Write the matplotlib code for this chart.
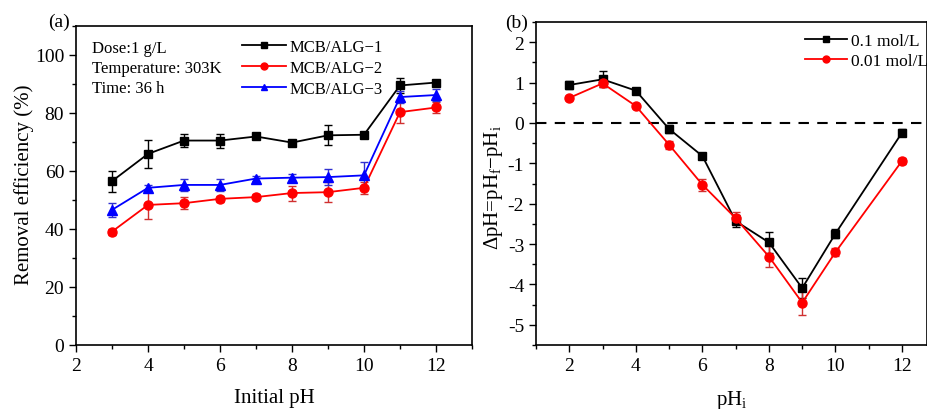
import matplotlib
matplotlib.use("Agg")
import matplotlib.pyplot as plt
from matplotlib.ticker import MultipleLocator
from matplotlib.lines import Line2D

plt.rcParams['font.family'] = ['Liberation Serif', 'DejaVu Serif']
plt.rcParams['mathtext.fontset'] = 'custom'
plt.rcParams['mathtext.rm'] = 'Liberation Serif'
plt.rcParams['mathtext.it'] = 'Liberation Serif:italic'
plt.rcParams['axes.unicode_minus'] = False

# ---- Panel (a) data ----
ph_a = [3, 4, 5, 6, 7, 8, 9, 10, 11, 12]
alg1 = [56.5, 65.9, 70.5, 70.5, 71.9, 69.8, 72.3, 72.5, 89.5, 90.5]
alg1_err = [3.6, 4.8, 2.2, 2.4, 1.0, 0.8, 3.4, 1.0, 2.6, 1.0]
alg2 = [39.1, 48.3, 48.9, 50.4, 51.0, 52.4, 52.7, 54.2, 80.3, 81.9]
alg2_err = [1.0, 4.8, 2.0, 1.0, 1.0, 2.6, 3.4, 2.0, 3.6, 2.0]
alg3 = [46.6, 54.2, 55.2, 55.2, 57.4, 57.7, 57.9, 58.5, 85.5, 86.2]
alg3_err = [2.3, 1.0, 2.2, 2.0, 1.0, 1.3, 2.8, 4.5, 2.0, 2.0]
labels_a = ['MCB/ALG\u22121', 'MCB/ALG\u22122', 'MCB/ALG\u22123']

# ---- Panel (b) data ----
ph_b = [2, 3, 4, 5, 6, 7, 8, 9, 10, 12]
c01 = [0.94, 1.08, 0.80, -0.15, -0.82, -2.43, -2.96, -4.09, -2.74, -0.24]
c01_err = [0.10, 0.20, 0.06, 0.10, 0.05, 0.15, 0.25, 0.25, 0.12, 0.08]
c001 = [0.62, 0.98, 0.42, -0.54, -1.53, -2.36, -3.31, -4.45, -3.20, -0.94]
c001_err = [0.05, 0.08, 0.05, 0.10, 0.15, 0.15, 0.25, 0.30, 0.10, 0.08]
labels_b = ['0.1 mol/L', '0.01 mol/L']

W, H = 927, 410
fig = plt.figure(figsize=(W / 100, H / 100), dpi=100)

def px_axes(x0, y0, x1, y1):
    return fig.add_axes([x0 / W, 1 - y1 / H, (x1 - x0) / W, (y1 - y0) / H])

ax1 = px_axes(76, 27, 472, 346)
ax2 = px_axes(536, 23, 927, 346)

tick_fs = 14
for ax in (ax1, ax2):
    for s in ax.spines.values():
        s.set_linewidth(1.2)
    ax.tick_params(which='both', direction='out', top=False, right=False,
                   labelsize=tick_fs, width=1.0)
    ax.tick_params(which='major', length=5)
    ax.tick_params(which='minor', length=3)

kw = dict(lw=1.3, capsize=3, elinewidth=1.0, capthick=1.0)
red = '#ff0000'
blue = '#0000ff'
ax1.errorbar(ph_a, alg1, yerr=alg1_err, color='black', marker='s', markersize=5.5, **kw)
ax1.errorbar(ph_a, alg2, yerr=alg2_err, color=red, ecolor='#d03030', marker='o', markersize=6.5, **kw)
ax1.errorbar(ph_a, alg3, yerr=alg3_err, color=blue, ecolor='#3030d0', marker='^', markersize=6.5, **kw)
ax1.set_xlim(2, 13)
ax1.set_ylim(0, 110)
ax1.xaxis.set_major_locator(MultipleLocator(2))
ax1.xaxis.set_minor_locator(MultipleLocator(1))
ax1.yaxis.set_major_locator(MultipleLocator(20))
ax1.yaxis.set_minor_locator(MultipleLocator(10))
ax1.set_xlabel('Initial pH', fontsize=15, labelpad=10)
ax1.set_ylabel('Removal efficiency (%)', fontsize=15)
ax1.yaxis.set_label_coords((34 - 76) / 396, (346 - 185) / 319)

h_a = [Line2D([], [], color='black', marker='s', markersize=4.5, lw=1.3),
       Line2D([], [], color=red, marker='o', markersize=5, lw=1.3),
       Line2D([], [], color=blue, marker='^', markersize=5, lw=1.3)]
ax1.legend(h_a, labels_a, loc='upper left', bbox_to_anchor=(0.42, 0.96), frameon=False,
           fontsize=12, handlelength=2.6, handletextpad=0.25,
           labelspacing=0.3, borderaxespad=0, borderpad=0)
ax1.text(0.04, 0.955, 'Dose:1 g/L\nTemperature: 303K\nTime: 36 h',
         transform=ax1.transAxes, fontsize=12, va='top', ha='left', linespacing=1.3)
fig.text(48 / W, 1 - 22 / H, '(a)', fontsize=14, va='center', ha='left')

ax2.axhline(0, color='black', lw=1.5, ls=(0, (5, 4)))
ax2.errorbar(ph_b, c01, yerr=c01_err, color='black', marker='s', markersize=5.5, zorder=3, **kw)
ax2.errorbar(ph_b, c001, yerr=c001_err, color=red, ecolor='#d03030', marker='o', markersize=6.5, zorder=3, **kw)
ax2.set_xlim(1, 12.75)
ax2.set_ylim(-5.5, 2.5)
ax2.xaxis.set_major_locator(MultipleLocator(2))
ax2.xaxis.set_minor_locator(MultipleLocator(1))
ax2.yaxis.set_major_locator(MultipleLocator(1))
ax2.yaxis.set_minor_locator(MultipleLocator(0.5))
ax2.set_xlabel(r'pH$_\mathrm{i}$', fontsize=15, labelpad=10)
ax2.set_ylabel('\u0394pH=pH$_\\mathrm{f}$\u2212pH$_\\mathrm{i}$', fontsize=15)
ax2.yaxis.set_label_coords((505 - 536) / 391, (346 - 188) / 323)

h_b = [Line2D([], [], color='black', marker='s', markersize=4.5, lw=1.3),
       Line2D([], [], color=red, marker='o', markersize=5, lw=1.3)]
ax2.legend(h_b, labels_b, loc='upper left', bbox_to_anchor=((805 - 536) / 391, 0.965),
           frameon=False, fontsize=12.5, handlelength=2.4, handletextpad=0.25,
           labelspacing=0.2, borderaxespad=0, borderpad=0)
fig.text(505 / W, 1 - 23 / H, '(b)', fontsize=14, va='center', ha='left')

fig.savefig('out.png', dpi=100)
